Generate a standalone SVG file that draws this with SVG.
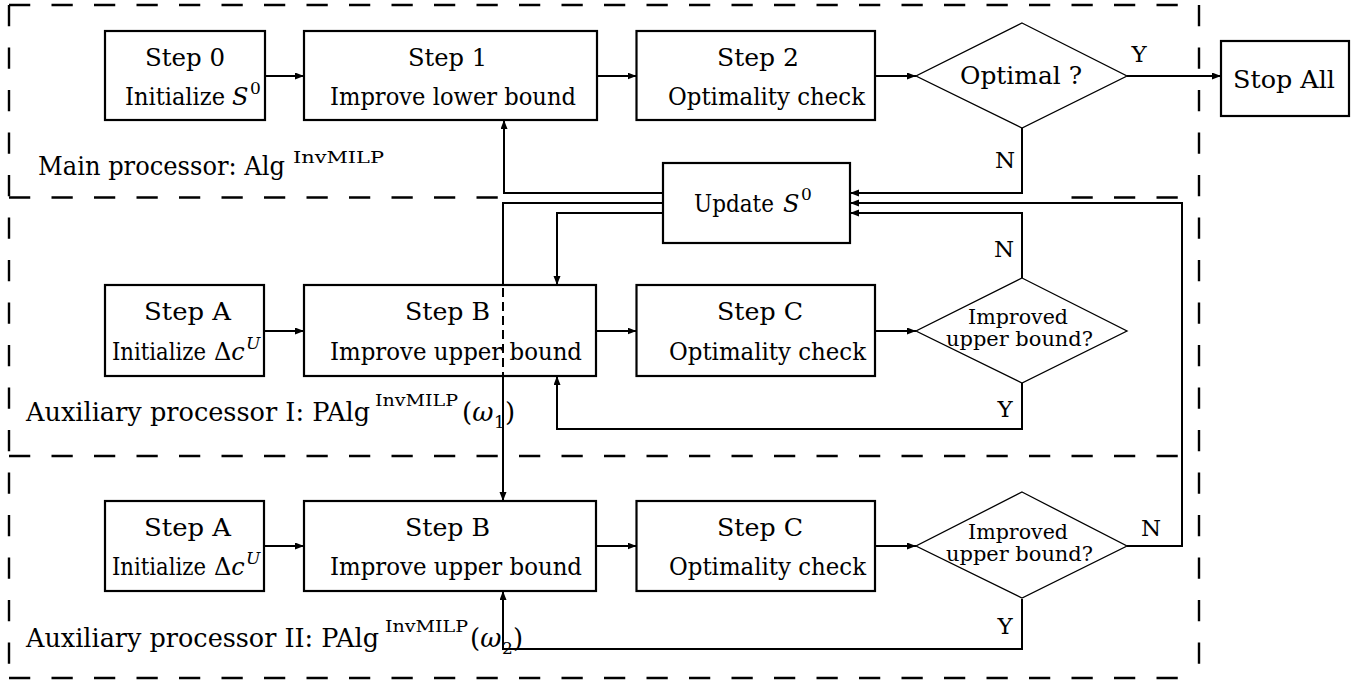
<svg xmlns="http://www.w3.org/2000/svg" width="1365" height="683" viewBox="0 0 1365 683">
<style>
  .box { fill: #fff; stroke: #000; stroke-width: 2.2; }
  .dia { fill: #fff; stroke: #000; stroke-width: 1.3; }
  .reg { fill: none; stroke: #000; stroke-width: 2.4; stroke-dasharray: 21.25 21.25; }
  .con { fill: none; stroke: #000; stroke-width: 2; }
  .conA { fill: none; stroke: #000; stroke-width: 2; marker-end: url(#arr); }
  text { font-family: "DejaVu Serif", "Liberation Serif", "Noto Serif", serif; fill: #000; }
  .t { font-size: 24px; }
  .lab { font-size: 26px; }
  .sup { font-size: 17px; }
  .sm { font-size: 20px; }
  .yn { font-size: 23px; text-anchor: middle; }
  .it { font-style: italic; }
</style>
<defs>
  <marker id="arr" markerUnits="userSpaceOnUse" markerWidth="10" markerHeight="8" refX="9" refY="3.5" orient="auto">
    <path d="M0,0 L9,3.5 L0,7 z" fill="#000"/>
  </marker>
</defs>
<rect width="1365" height="683" fill="#fff"/>

<g id="regions">
  <line class="reg" x1="9" y1="5" x2="1199" y2="5"/>
  <line class="reg" x1="9" y1="5" x2="9" y2="678"/>
  <line class="reg" x1="1199" y1="5" x2="1199" y2="678"/>
  <line class="reg" x1="9" y1="678" x2="1199" y2="678"/>
  <line class="reg" x1="9" y1="197.5" x2="500" y2="197.5"/>
  <line class="reg" x1="1071.5" y1="197.5" x2="1178" y2="197.5"/>
  <line class="reg" x1="9" y1="456" x2="1180" y2="456"/>
  <text class="lab" y="175"><tspan x="38" textLength="247" lengthAdjust="spacingAndGlyphs">Main processor: Alg</tspan><tspan class="sup" x="293" y="163" textLength="91" lengthAdjust="spacingAndGlyphs">InvMILP</tspan></text>
  <text class="lab" y="421"><tspan x="26" textLength="344" lengthAdjust="spacingAndGlyphs">Auxiliary processor I: PAlg</tspan><tspan class="sup" x="375" y="406" textLength="83" lengthAdjust="spacingAndGlyphs">InvMILP</tspan><tspan x="462" y="421">(</tspan><tspan class="it">ω</tspan><tspan class="sup" x="494" y="428">1</tspan><tspan x="505" y="421">)</tspan></text>
  <text class="lab" y="647"><tspan x="26" textLength="353" lengthAdjust="spacingAndGlyphs">Auxiliary processor II: PAlg</tspan><tspan class="sup" x="385" y="632" textLength="83" lengthAdjust="spacingAndGlyphs">InvMILP</tspan><tspan x="470" y="647">(</tspan><tspan class="it">ω</tspan><tspan class="sup" x="502" y="654">2</tspan><tspan x="513" y="647">)</tspan></text>
</g>

<g id="step0">
  <rect class="box" x="105" y="31" width="160" height="89"/>
  <text class="t" x="145" y="66" textLength="80" lengthAdjust="spacingAndGlyphs">Step 0</text>
  <text class="t" y="105"><tspan x="125" textLength="100" lengthAdjust="spacingAndGlyphs">Initialize</tspan><tspan class="it" x="232">S</tspan><tspan class="sup" x="250" y="94">0</tspan></text>
</g>
<g id="step1">
  <rect class="box" x="304" y="31" width="293" height="89"/>
  <text class="t" x="408" y="66" textLength="79" lengthAdjust="spacingAndGlyphs">Step 1</text>
  <text class="t" x="330" y="105" textLength="246" lengthAdjust="spacingAndGlyphs">Improve lower bound</text>
</g>
<g id="step2">
  <rect class="box" x="636.5" y="31" width="238.5" height="89"/>
  <text class="t" x="717" y="66" textLength="82" lengthAdjust="spacingAndGlyphs">Step 2</text>
  <text class="t" x="668" y="105" textLength="197" lengthAdjust="spacingAndGlyphs">Optimality check</text>
</g>
<g id="optimal">
  <polygon class="dia" points="1022,23 1127,76 1022,128 916,76"/>
  <text class="t" x="960" y="84" textLength="122" lengthAdjust="spacingAndGlyphs">Optimal ?</text>
</g>
<g id="stopall">
  <rect class="box" x="1221" y="41" width="128" height="75"/>
  <text class="t" x="1233" y="88" textLength="102" lengthAdjust="spacingAndGlyphs">Stop All</text>
</g>
<g id="update">
  <rect class="box" x="663" y="163" width="187" height="80"/>
  <text class="t" y="212"><tspan x="694" textLength="80" lengthAdjust="spacingAndGlyphs">Update</tspan><tspan class="it" x="783">S</tspan><tspan class="sup" x="801" y="200">0</tspan></text>
</g>

<g id="aux1-stepA">
  <rect class="box" x="105" y="285" width="159" height="91"/>
  <text class="t" x="144" y="320" textLength="87" lengthAdjust="spacingAndGlyphs">Step A</text>
  <text class="t" y="360"><tspan x="112" textLength="94" lengthAdjust="spacingAndGlyphs">Initialize</tspan><tspan x="214">Δ</tspan><tspan class="it">c</tspan><tspan class="sup it" x="246" y="349">U</tspan></text>
</g>
<g id="aux1-stepB">
  <rect class="box" x="304" y="285" width="292" height="91"/>
  <text class="t" x="405" y="320" textLength="85" lengthAdjust="spacingAndGlyphs">Step B</text>
  <text class="t" x="330" y="360" textLength="252" lengthAdjust="spacingAndGlyphs">Improve upper bound</text>
</g>
<g id="aux1-stepC">
  <rect class="box" x="636.5" y="285" width="238.5" height="91"/>
  <text class="t" x="717" y="320" textLength="86" lengthAdjust="spacingAndGlyphs">Step C</text>
  <text class="t" x="669" y="360" textLength="197" lengthAdjust="spacingAndGlyphs">Optimality check</text>
</g>
<g id="aux1-improved">
  <polygon class="dia" points="1022,278 1127,331 1022,383 916,331"/>
  <text class="sm" x="968" y="324" textLength="100" lengthAdjust="spacingAndGlyphs">Improved</text>
  <text class="sm" x="946" y="346" textLength="147" lengthAdjust="spacingAndGlyphs">upper bound?</text>
</g>

<g id="aux2-stepA">
  <rect class="box" x="105" y="501" width="159" height="90"/>
  <text class="t" x="144" y="536" textLength="87" lengthAdjust="spacingAndGlyphs">Step A</text>
  <text class="t" y="575"><tspan x="112" textLength="94" lengthAdjust="spacingAndGlyphs">Initialize</tspan><tspan x="214">Δ</tspan><tspan class="it">c</tspan><tspan class="sup it" x="246" y="564">U</tspan></text>
</g>
<g id="aux2-stepB">
  <rect class="box" x="304" y="501" width="292" height="90"/>
  <text class="t" x="405" y="536" textLength="85" lengthAdjust="spacingAndGlyphs">Step B</text>
  <text class="t" x="330" y="575" textLength="252" lengthAdjust="spacingAndGlyphs">Improve upper bound</text>
</g>
<g id="aux2-stepC">
  <rect class="box" x="636.5" y="501" width="238.5" height="90"/>
  <text class="t" x="717" y="536" textLength="86" lengthAdjust="spacingAndGlyphs">Step C</text>
  <text class="t" x="669" y="575" textLength="197" lengthAdjust="spacingAndGlyphs">Optimality check</text>
</g>
<g id="aux2-improved">
  <polygon class="dia" points="1022,492 1127,546 1022,598 916,546"/>
  <text class="sm" x="968" y="539" textLength="100" lengthAdjust="spacingAndGlyphs">Improved</text>
  <text class="sm" x="946" y="561" textLength="147" lengthAdjust="spacingAndGlyphs">upper bound?</text>
</g>

<g id="connectors">
  <line class="conA" x1="265" y1="76" x2="304" y2="76"/>
  <line class="conA" x1="597" y1="76" x2="636.5" y2="76"/>
  <line class="conA" x1="875" y1="76" x2="916" y2="76"/>
  <line class="conA" x1="1127" y1="76" x2="1221" y2="76"/>
  <path class="conA" d="M1022,128 V193 H850"/>
  <path class="conA" d="M663,193 H504 V120"/>
  <path class="con" d="M663,203 H503 V286"/>
  <line class="con" x1="503" y1="288" x2="503" y2="375" stroke-dasharray="9 5"/>
  <path class="conA" d="M503,377 V501"/>
  <path class="conA" d="M663,213 H557 V285"/>
  <line class="conA" x1="264" y1="331" x2="304" y2="331"/>
  <line class="conA" x1="596" y1="331" x2="636.5" y2="331"/>
  <line class="conA" x1="875" y1="331" x2="916" y2="331"/>
  <path class="conA" d="M1022,278 V213 H850"/>
  <path class="conA" d="M1022,383 V429 H557 V376"/>
  <line class="conA" x1="264" y1="546" x2="304" y2="546"/>
  <line class="conA" x1="596" y1="546" x2="636.5" y2="546"/>
  <line class="conA" x1="875" y1="546" x2="916" y2="546"/>
  <path class="conA" d="M1127,546 H1182 V203 H850"/>
  <path class="conA" d="M1022,599 V649 H503 V591"/>
  <text class="yn" x="1139" y="62">Y</text>
  <text class="yn" x="1005" y="168">N</text>
  <text class="yn" x="1004" y="257">N</text>
  <text class="yn" x="1005" y="417">Y</text>
  <text class="yn" x="1151" y="536">N</text>
  <text class="yn" x="1005" y="634">Y</text>
</g>
</svg>
